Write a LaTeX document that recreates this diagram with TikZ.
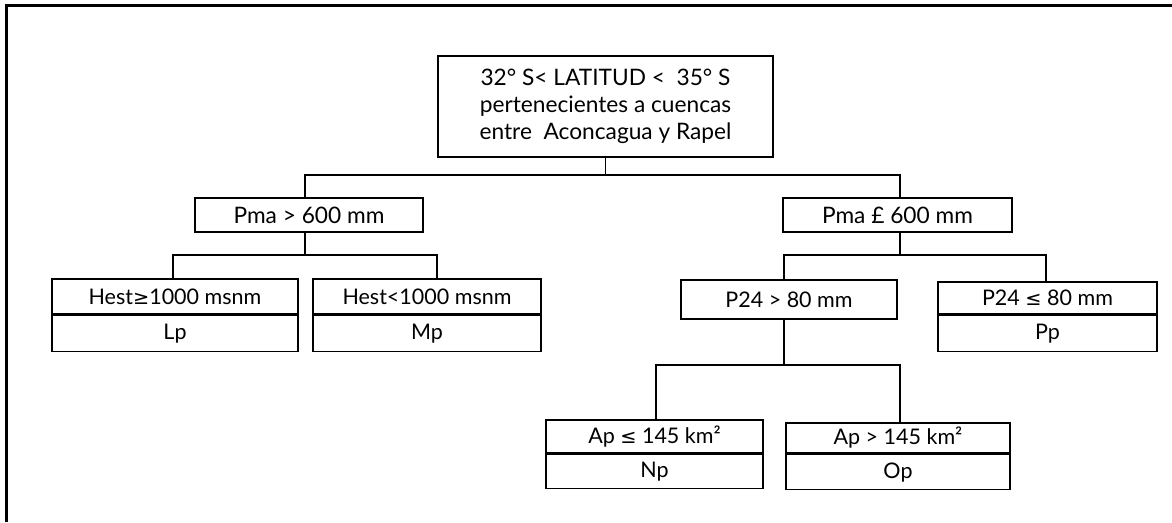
\documentclass[tikz,border=0pt]{standalone}
\usepackage{fontspec}
\setmainfont{Lato}
\newfontfamily\symf{DejaVu Sans}[Scale=0.9]
\newcommand{\myle}{{\symf ≤}}
\newcommand{\myge}{{\symf ≥}}
\begin{document}
\begin{tikzpicture}[x=1pt,y=-1pt,
  box/.style={draw, line width=1.6pt, inner sep=0pt, align=center, font=\fontsize{21.5}{27}\selectfont},
  bigbox/.style={box, font=\fontsize{22.7}{27}\selectfont},
  conn/.style={line width=1.6pt},
  frame/.style={line width=3pt}]
\useasboundingbox (0,0) rectangle (1172,522);
\draw[frame] (6,522) -- (6,5) -- (1172,5);
% nodes
\node[bigbox, minimum width=335, minimum height=101] (top) at (605.5,106.5)
  {32° S< LATITUD <\ \ 35° S\\pertenecientes a cuencas\\entre\ \ Aconcagua y Rapel};
\node[bigbox, minimum width=228, minimum height=34] (pma1) at (309,215) {Pma > 600 mm};
\node[bigbox, minimum width=229, minimum height=34] (pma2) at (897.5,215) {Pma £ 600 mm};
\node[box, minimum width=246, minimum height=35] (hest1) at (175,296.5) {Hest\myge1000 msnm};
\node[box, minimum width=246, minimum height=36, anchor=north] (lp) at (hest1.south) {Lp};
\node[box, minimum width=228, minimum height=35] (hest2) at (427,296.5) {Hest<1000 msnm};
\node[box, minimum width=228, minimum height=36, anchor=north] (mp) at (hest2.south) {Mp};
\node[box, minimum width=216, minimum height=39] (p24a) at (789,299.5) {P24 > 80 mm};
\node[box, minimum width=219, minimum height=32] (p24b) at (1047.5,298) {P24 \myle\ 80 mm};
\node[box, minimum width=219, minimum height=36, anchor=north] (pp) at (p24b.south) {Pp};
\node[box, minimum width=217, minimum height=33] (ap1) at (654.5,436.5) {Ap \myle\ 145 km²};
\node[box, minimum width=217, minimum height=34, anchor=north] (np) at (ap1.south) {Np};
\node[box, minimum width=224, minimum height=30] (ap2) at (898,438) {Ap > 145 km²};
\node[box, minimum width=224, minimum height=35, anchor=north] (op) at (ap2.south) {Op};
% connectors
\coordinate (b0) at (605.5,175);
\draw[conn] (top.south) -- (b0);
\draw[conn] ([xshift=-4]pma1.north) |- (b0) -| ([xshift=2.5]pma2.north);
\coordinate (b1) at (305,255);
\draw[conn] ([xshift=-4]pma1.south) -- (b1);
\draw[conn] ([xshift=-2]hest1.north) |- (b1) -| ([xshift=10]hest2.north);
\coordinate (b2) at (900,255);
\draw[conn] ([xshift=2.5]pma2.south) -- (b2);
\draw[conn] ([xshift=-5]p24a.north) |- (b2) -| ([xshift=-1.5]p24b.north);
\coordinate (b3) at (784,365);
\draw[conn] ([xshift=-5]p24a.south) -- (b3);
\draw[conn] ([xshift=1.5]ap1.north) |- (b3) -| ([xshift=2]ap2.north);
\end{tikzpicture}
\end{document}
